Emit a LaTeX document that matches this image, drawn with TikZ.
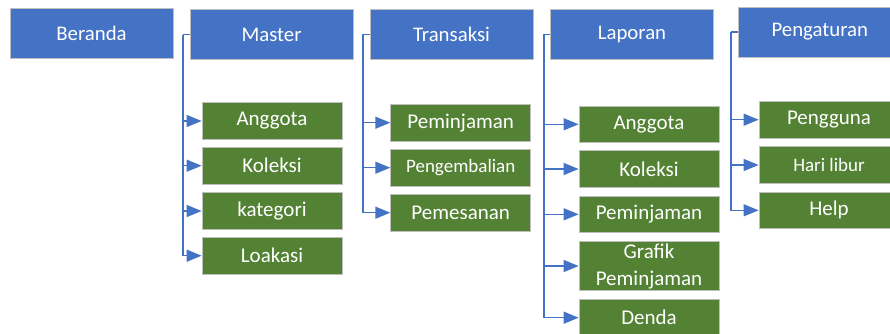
\documentclass[tikz,border=0pt]{standalone}
\usepackage{fontspec}
\setmainfont{Carlito}
\usetikzlibrary{arrows.meta}
\definecolor{hblue}{HTML}{4472C4}
\definecolor{hgreen}{HTML}{548235}
\definecolor{hedge}{HTML}{BFBFBF}
\begin{document}
\begin{tikzpicture}[x=1pt,y=-1pt,
  topbox/.style={fill=hblue,draw=hedge,line width=0.8pt,minimum width=163pt,minimum height=50pt,text=white,font=\fontsize{20.8}{24}\selectfont,inner sep=0pt},
  subbox/.style={fill=hgreen,draw=hedge,line width=0.8pt,minimum width=140pt,minimum height=36.7pt,text=white,font=\fontsize{21}{24}\selectfont,inner sep=0pt,align=center},
  small/.style={font=\fontsize{19}{22}\selectfont},
  conn/.style={draw=hblue,line width=1.4pt,-{Triangle[length=15pt,width=12pt]}},
  trunk/.style={draw=hblue,line width=1.4pt}
]
\useasboundingbox (0,0) rectangle (890,333);
\clip (0,0) rectangle (890,333);
% top level
\node[topbox] (ber) at (91.5,33.5) {Beranda};
\node[topbox] (mas) at (271.5,34.5) {Master};
\node[topbox] (tra) at (451.5,34.3) {Transaksi};
\node[topbox] (lap) at (632,34.3) {Laporan};
\node[topbox] (pen) at (819.8,32) {Pengaturan};
% Master children
\node[subbox] (m1) at (272,121) {Anggota};
\node[subbox] (m2) at (272,165.7) {Koleksi};
\node[subbox] (m3) at (272,211) {kategori};
\node[subbox] (m4) at (272,255.7) {Loakasi};
% Transaksi children
\node[subbox] (t1) at (460.7,122.7) {Peminjaman};
\node[subbox,small] (t2) at (460.7,167.7) {Pengembalian};
\node[subbox] (t3) at (460.7,212.7) {Pemesanan};
% Laporan children
\node[subbox] (l1) at (649,124.3) {Anggota};
\node[subbox] (l2) at (649,169) {Koleksi};
\node[subbox] (l3) at (649,214.3) {Peminjaman};
\node[subbox,minimum height=49.4pt,font=\fontsize{21}{27}\selectfont] (l4) at (649,266) {Grafik\\Peminjaman};
\node[subbox] (l5) at (649,317.7) {Denda};
% Pengaturan children
\node[subbox] (p1) at (829,119.7) {Pengguna};
\node[subbox,small] (p2) at (829,165) {Hari libur};
\node[subbox] (p3) at (829,210.3) {Help};
% trunk coordinates
\coordinate (mt) at (183,34.5);
\coordinate (tt) at (363,34.3);
\coordinate (lt) at (544,34.3);
\coordinate (pt) at (731,32);
% connectors
\draw[trunk] (mas.west) -- (mt);
\foreach \c in {m1,m2,m3,m4} \draw[conn] (mt) |- (\c.west);
\draw[trunk] (tra.west) -- (tt);
\foreach \c in {t1,t2,t3} \draw[conn] (tt) |- (\c.west);
\draw[trunk] (lap.west) -- (lt);
\foreach \c in {l1,l2,l3,l4,l5} \draw[conn] (lt) |- (\c.west);
\draw[trunk] (pen.west) -- (pt);
\foreach \c in {p1,p2,p3} \draw[conn] (pt) |- (\c.west);
\end{tikzpicture}
\end{document}
